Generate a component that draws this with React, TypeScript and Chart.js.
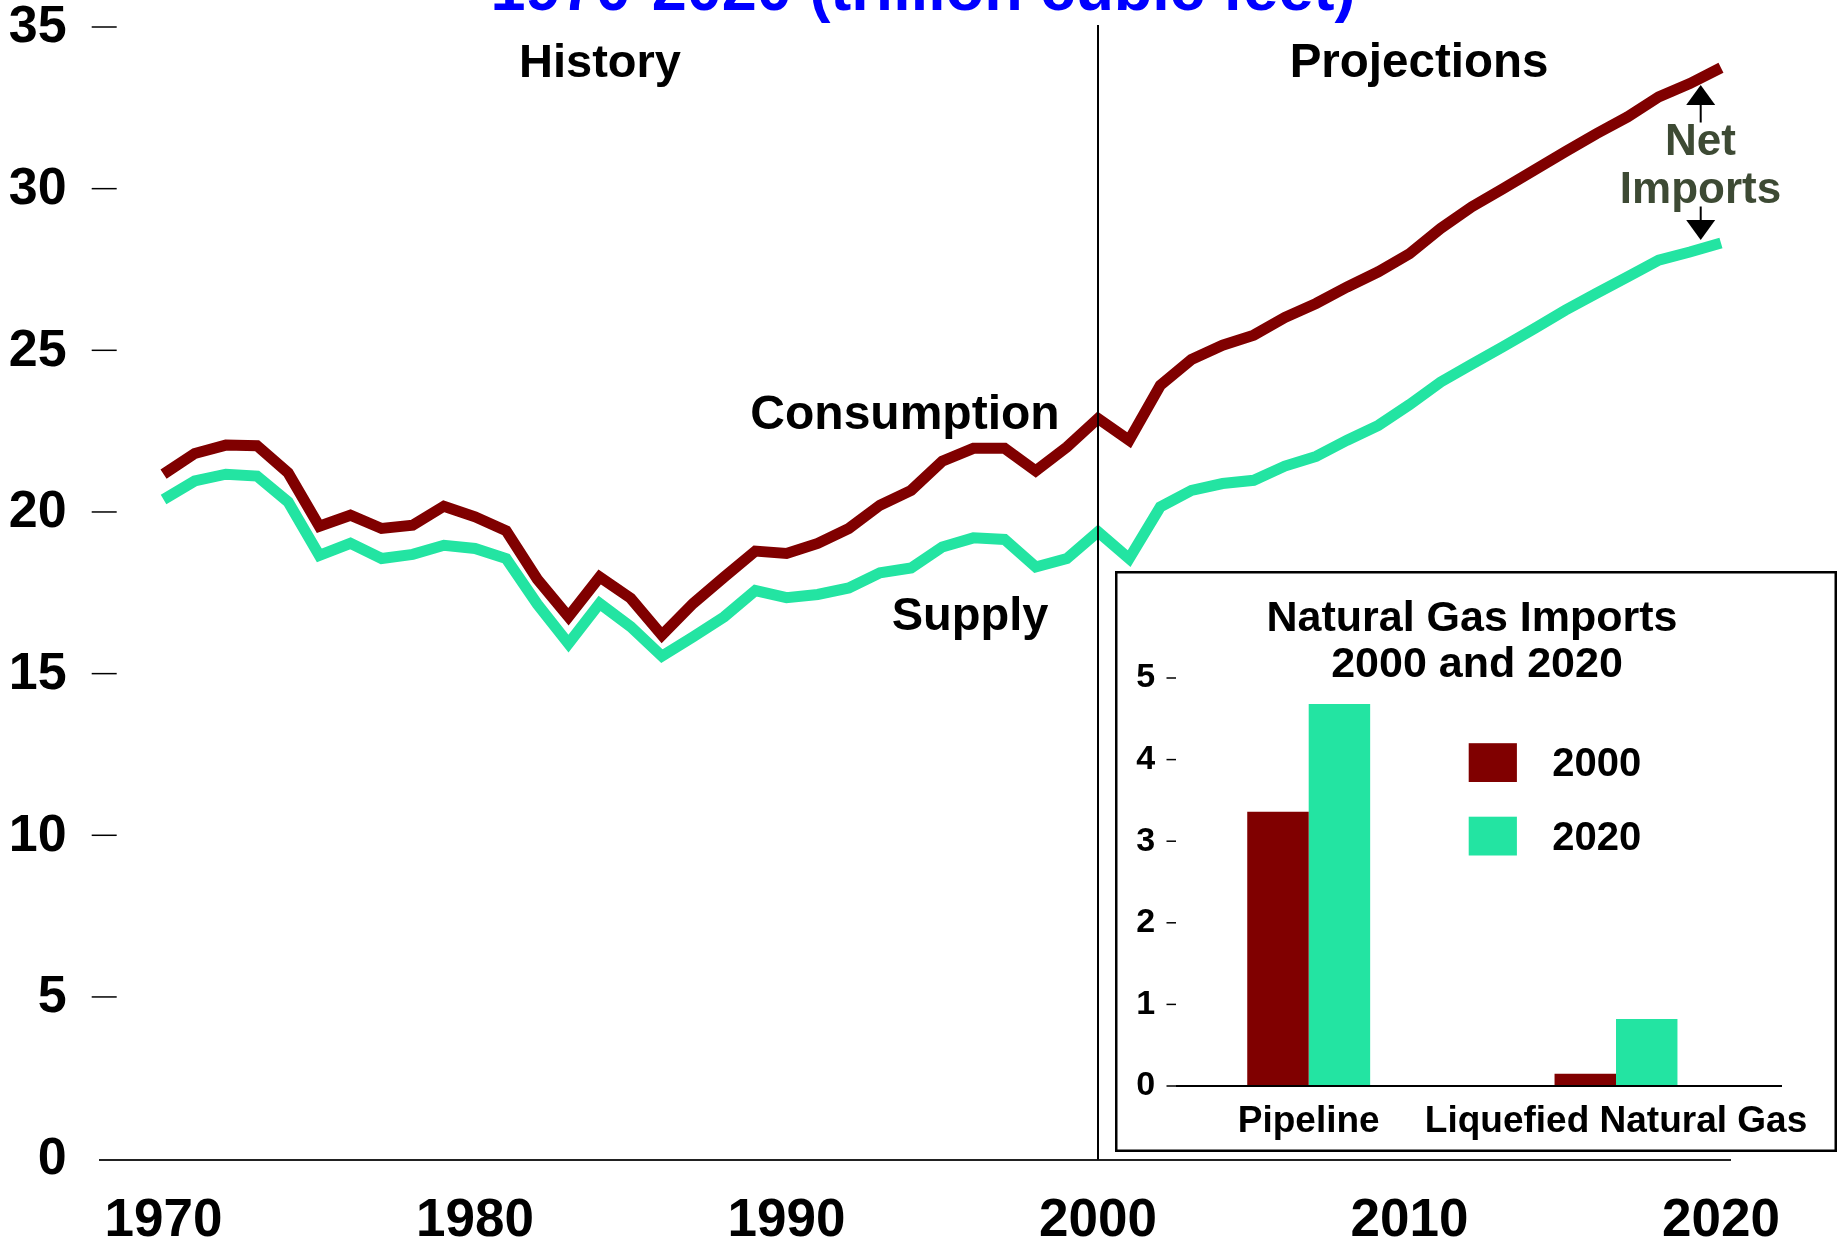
import React, { useEffect, useRef } from 'react';
import { Chart, registerables } from 'chart.js';

Chart.register(...registerables);

// ---------- data ----------
const YEARS = [
  1970, 1971, 1972, 1973, 1974, 1975, 1976, 1977, 1978, 1979,
  1980, 1981, 1982, 1983, 1984, 1985, 1986, 1987, 1988, 1989,
  1990, 1991, 1992, 1993, 1994, 1995, 1996, 1997, 1998, 1999,
  2000, 2001, 2002, 2003, 2004, 2005, 2006, 2007, 2008, 2009,
  2010, 2011, 2012, 2013, 2014, 2015, 2016, 2017, 2018, 2019, 2020,
];

const CONSUMPTION = [
  21.2, 21.84, 22.1, 22.08, 21.24, 19.59, 19.93, 19.52, 19.62, 20.21,
  19.88, 19.45, 17.95, 16.79, 18.02, 17.36, 16.22, 17.2, 18.02, 18.82,
  18.75, 19.06, 19.52, 20.24, 20.7, 21.6, 22.0, 22.0, 21.3, 22.04,
  22.92, 22.25, 23.95, 24.75, 25.19, 25.5, 26.05, 26.48, 26.99, 27.46,
  28.02, 28.8, 29.47, 30.03, 30.6, 31.17, 31.73, 32.25, 32.87, 33.28, 33.77,
];

const SUPPLY = [
  20.42, 20.99, 21.2, 21.14, 20.34, 18.69, 19.06, 18.59, 18.72, 19.0,
  18.9, 18.59, 17.18, 15.96, 17.2, 16.48, 15.57, 16.17, 16.79, 17.6,
  17.38, 17.48, 17.68, 18.15, 18.3, 18.95, 19.23, 19.18, 18.33, 18.59,
  19.42, 18.59, 20.19, 20.7, 20.91, 21.01, 21.45, 21.75, 22.25, 22.71,
  23.35, 24.05, 24.6, 25.14, 25.7, 26.27, 26.79, 27.3, 27.82, 28.07, 28.35,
];

const X_TICKS = [1970, 1980, 1990, 2000, 2010, 2020];
const Y_TICKS = [0, 5, 10, 15, 20, 25, 30, 35];
const DIVIDER_YEAR = 2000;

const IMPORT_CATEGORIES = ['Pipeline', 'Liquefied Natural Gas'];
const IMPORTS_2000 = [3.36, 0.15];
const IMPORTS_2020 = [4.68, 0.82];
const IMPORT_SERIES_LABELS = ['2000', '2020'];
const INSET_Y_TICKS = [0, 1, 2, 3, 4, 5];

// ---------- styles ----------
const MAROON = '#800000';
const TEAL = '#23E4A2';
const OLIVE = '#3D4A34';
const FONT = 'Arial, "Liberation Sans", Helvetica, sans-serif';

const W = 1839;
const H = 1249;
const INSET_LEFT = 1115;
const INSET_TOP = 571;
const INSET_W = 722;
const INSET_H = 581;

function drawArrow(ctx: CanvasRenderingContext2D, x: number, stemFrom: number, stemTo: number, tipY: number, half: number) {
  ctx.beginPath();
  ctx.moveTo(x, stemFrom);
  ctx.lineTo(x, stemTo);
  ctx.lineWidth = 2;
  ctx.strokeStyle = '#000';
  ctx.stroke();
  ctx.beginPath();
  ctx.moveTo(x - half, stemTo);
  ctx.lineTo(x + half, stemTo);
  ctx.lineTo(x, tipY);
  ctx.closePath();
  ctx.fillStyle = '#000';
  ctx.fill();
}

const mainDecor = {
  id: 'mainDecor',
  beforeDraw(chart: any) {
    const { ctx } = chart;
    ctx.save();
    ctx.fillStyle = '#fff';
    ctx.fillRect(0, 0, chart.width, chart.height);
    ctx.restore();
  },
  afterDatasetsDraw(chart: any) {
    const { ctx, chartArea, scales } = chart;
    const xs = scales.x;
    const ys = scales.y;
    ctx.save();

    // y tick dashes
    ctx.strokeStyle = '#000';
    ctx.lineWidth = 1.5;
    Y_TICKS.forEach((v) => {
      if (v === 0) return;
      const y = ys.getPixelForValue(v) - 1;
      ctx.beginPath();
      ctx.moveTo(chartArea.left - 8, y);
      ctx.lineTo(chartArea.left + 17, y);
      ctx.stroke();
    });

    // history / projection divider
    const dx = Math.round(xs.getPixelForValue(DIVIDER_YEAR));
    ctx.lineWidth = 2;
    ctx.beginPath();
    ctx.moveTo(dx, chartArea.top - 3);
    ctx.lineTo(dx, chartArea.bottom);
    ctx.stroke();

    // title (top part cut off by canvas edge)
    ctx.fillStyle = '#0000FF';
    ctx.textAlign = 'center';
    ctx.textBaseline = 'alphabetic';
    ctx.font = `bold 63px ${FONT}`;
    ctx.fillText('1970-2020 (trillion cubic feet)', 923, 9.5);

    // annotations
    ctx.fillStyle = '#000';
    ctx.font = `bold 47px ${FONT}`;
    ctx.fillText('History', 600, 77);
    ctx.fillText('Supply', 970, 630);
    ctx.font = `bold 47.5px ${FONT}`;
    ctx.fillText('Projections', 1419, 77);
    ctx.font = `bold 48px ${FONT}`;
    ctx.fillText('Consumption', 905, 428.5);

    ctx.fillStyle = OLIVE;
    ctx.font = `bold 44px ${FONT}`;
    ctx.fillText('Net', 1700.5, 155);
    ctx.fillText('Imports', 1700.5, 202.5);

    drawArrow(ctx, 1700.7, 122.5, 105, 85, 14.5);
    drawArrow(ctx, 1700.7, 206.5, 220, 240, 14.5);

    ctx.restore();
  },
};

const insetDecor = {
  id: 'insetDecor',
  beforeDraw(chart: any) {
    const { ctx } = chart;
    ctx.save();
    ctx.fillStyle = '#fff';
    ctx.fillRect(0, 0, chart.width, chart.height);
    ctx.restore();
  },
  afterDraw(chart: any) {
    const { ctx, scales } = chart;
    const ys = scales.y;
    ctx.save();

    // frame
    ctx.strokeStyle = '#000';
    ctx.lineWidth = 2.5;
    ctx.strokeRect(1.25, 1.25, chart.width - 2.5, chart.height - 2.5);

    // baseline
    const y0 = ys.getPixelForValue(0);
    ctx.lineWidth = 2;
    ctx.beginPath();
    ctx.moveTo(61, y0);
    ctx.lineTo(667, y0);
    ctx.stroke();

    // tick dashes
    ctx.lineWidth = 1.5;
    INSET_Y_TICKS.forEach((v) => {
      const y = ys.getPixelForValue(v);
      ctx.beginPath();
      ctx.moveTo(51.5, y);
      ctx.lineTo(61, y);
      ctx.stroke();
    });

    // title
    ctx.fillStyle = '#000';
    ctx.textAlign = 'center';
    ctx.textBaseline = 'alphabetic';
    ctx.font = `bold 43px ${FONT}`;
    ctx.fillText('Natural Gas Imports', 357, 59.5);
    ctx.fillText('2000 and 2020', 362, 105.7);

    // legend
    ctx.font = `bold 40px ${FONT}`;
    ctx.textAlign = 'left';
    ctx.textBaseline = 'middle';
    const rows = [172.2, 245.7];
    chart.data.datasets.forEach((ds: any, i: number) => {
      const top = rows[i];
      ctx.fillStyle = ds.backgroundColor;
      ctx.fillRect(353.7, top, 48.2, 38.8);
      ctx.fillStyle = '#000';
      ctx.fillText(ds.label, 437.3, top + 22);
    });

    ctx.restore();
  },
};

export default function App() {
  const mainRef = useRef<HTMLCanvasElement>(null);
  const insetRef = useRef<HTMLCanvasElement>(null);

  useEffect(() => {
    const mainChart = new Chart(mainRef.current as HTMLCanvasElement, {
      type: 'line',
      data: {
        datasets: [
          {
            label: 'Consumption',
            data: YEARS.map((yr, i) => ({ x: yr, y: CONSUMPTION[i] })),
            borderColor: MAROON,
            backgroundColor: MAROON,
            borderWidth: 11,
            pointRadius: 0,
            tension: 0,
            fill: false,
          },
          {
            label: 'Supply',
            data: YEARS.map((yr, i) => ({ x: yr, y: SUPPLY[i] })),
            borderColor: TEAL,
            backgroundColor: TEAL,
            borderWidth: 11,
            pointRadius: 0,
            tension: 0,
            fill: false,
          },
        ],
      },
      options: {
        responsive: false,
        animation: false,
        layout: { padding: { top: 28, right: 109, left: 0, bottom: 0 } },
        plugins: {
          legend: { display: false },
          tooltip: { enabled: false },
          title: { display: false },
        },
        scales: {
          x: {
            type: 'linear',
            min: 1967.95,
            max: 2020.29,
            grid: { display: false, drawTicks: false },
            border: { display: true, color: '#222', width: 2 },
            ticks: {
              padding: 35,
              color: '#000',
              autoSkip: false,
              maxRotation: 0,
              includeBounds: false,
              font: { family: FONT, size: 53, weight: 'bold', lineHeight: 1 },
              callback: (v: any) => String(v),
            },
            afterBuildTicks: (s: any) => {
              s.ticks = X_TICKS.map((value) => ({ value }));
            },
            afterFit: (s: any) => {
              s.height = 89.4;
            },
          },
          y: {
            type: 'linear',
            min: 0,
            max: 35,
            grid: { display: false, drawTicks: true, tickLength: 33 },
            border: { display: false },
            ticks: {
              padding: 0,
              color: '#000',
              font: { family: FONT, size: 52, weight: 'bold', lineHeight: 1 },
              callback: (v: any) => String(v),
            },
            afterBuildTicks: (s: any) => {
              s.ticks = Y_TICKS.map((value) => ({ value }));
            },
            afterFit: (s: any) => {
              s.width = 99.7;
            },
          },
        },
      } as any,
      plugins: [mainDecor],
    });

    const insetChart = new Chart(insetRef.current as HTMLCanvasElement, {
      type: 'bar',
      data: {
        labels: IMPORT_CATEGORIES,
        datasets: [
          {
            label: IMPORT_SERIES_LABELS[0],
            data: IMPORTS_2000,
            backgroundColor: MAROON,
            categoryPercentage: 0.4,
            barPercentage: 1,
          },
          {
            label: IMPORT_SERIES_LABELS[1],
            data: IMPORTS_2020,
            backgroundColor: TEAL,
            categoryPercentage: 0.4,
            barPercentage: 1,
          },
        ],
      },
      options: {
        responsive: false,
        animation: false,
        layout: { padding: { top: 107, right: 67.35, left: 0, bottom: 0 } },
        plugins: {
          legend: { display: false },
          tooltip: { enabled: false },
          title: { display: false },
        },
        scales: {
          x: {
            type: 'category',
            grid: { display: false, drawTicks: true, tickLength: 17 },
            border: { display: false },
            ticks: {
              padding: 0,
              color: '#000',
              autoSkip: false,
              maxRotation: 0,
              font: { family: FONT, size: 37, weight: 'bold', lineHeight: 1 },
            },
            afterFit: (s: any) => {
              s.height = 66;
            },
          },
          y: {
            type: 'linear',
            min: 0,
            max: 5,
            grid: { display: false, drawTicks: false },
            border: { display: false },
            ticks: {
              padding: 0,
              color: '#000',
              font: { family: FONT, size: 34, weight: 'bold', lineHeight: 1 },
              callback: (v: any) => String(v),
            },
            afterBuildTicks: (s: any) => {
              s.ticks = INSET_Y_TICKS.map((value) => ({ value }));
            },
            afterFit: (s: any) => {
              s.width = 40.05;
            },
          },
        },
      } as any,
      plugins: [insetDecor],
    });

    return () => {
      mainChart.destroy();
      insetChart.destroy();
    };
  }, []);

  return (
    <div style={{ position: 'fixed', left: 0, top: 0, width: W, height: H, background: '#fff', overflow: 'hidden' }}>
      <canvas
        ref={mainRef}
        width={W}
        height={H}
        style={{ position: 'absolute', left: 0, top: 0, width: W, height: H, display: 'block' }}
      />
      <canvas
        ref={insetRef}
        width={INSET_W}
        height={INSET_H}
        style={{ position: 'absolute', left: INSET_LEFT, top: INSET_TOP, width: INSET_W, height: INSET_H, display: 'block' }}
      />
    </div>
  );
}
